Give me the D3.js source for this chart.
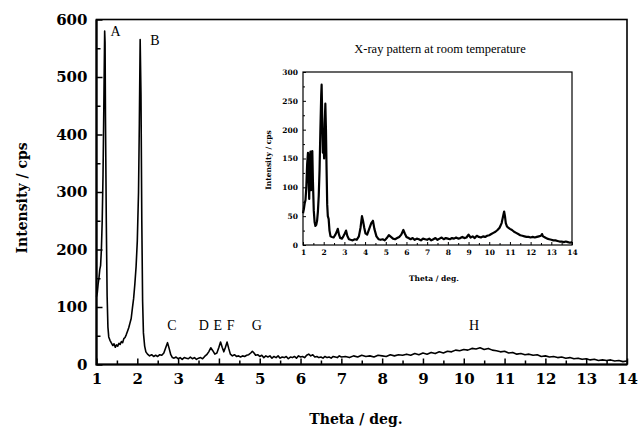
<!DOCTYPE html>
<html>
<head>
<meta charset="utf-8">
<script src="https://cdn.jsdelivr.net/npm/d3@7"></script>
<style>
	body { margin: 0; background: #fff; }
	svg { display: block; }
	.tick text { font-family: 'DejaVu Serif', serif; font-weight: bold; }
</style>
</head>
<body>
<script>

// main pattern (theta, intensity)
var mainTheta = [1.00,1.02,1.04,1.06,1.08,1.10,1.12,1.14,1.16,1.18,1.20,1.21,1.22,1.24,1.26,1.28,1.30,1.33,1.36,1.40,1.43,1.46,1.49,1.52,1.55,1.58,1.61,1.64,1.67,1.70,1.73,1.76,1.79,1.82,1.85,1.88,1.91,1.94,1.97,2.00,2.03,2.05,2.07,2.09,2.11,2.13,2.15,2.18,2.21,2.25,2.30,2.35,2.40,2.45,2.50,2.55,2.60,2.65,2.70,2.74,2.78,2.82,2.86,2.90,2.95,3.00,3.05,3.10,3.15,3.20,3.25,3.30,3.35,3.40,3.45,3.50,3.55,3.60,3.65,3.70,3.75,3.80,3.85,3.90,3.95,4.00,4.04,4.08,4.12,4.16,4.20,4.24,4.28,4.33,4.38,4.43,4.48,4.53,4.58,4.63,4.68,4.73,4.78,4.82,4.86,4.90,4.95,5.00,5.05,5.10,5.15,5.20,5.25,5.30,5.35,5.40,5.45,5.50,5.55,5.60,5.65,5.70,5.75,5.80,5.85,5.90,5.95,6.00,6.05,6.10,6.15,6.20,6.25,6.30,6.35,6.40,6.45,6.50,6.55,6.60,6.65,6.70,6.75,6.80,6.85,6.90,6.95,7.00,7.10,7.20,7.30,7.40,7.50,7.60,7.70,7.80,7.90,8.00,8.10,8.20,8.30,8.40,8.50,8.60,8.70,8.80,8.90,9.00,9.10,9.20,9.30,9.40,9.50,9.60,9.70,9.80,9.90,10.00,10.10,10.20,10.30,10.40,10.50,10.60,10.70,10.80,10.90,11.00,11.10,11.20,11.30,11.40,11.50,11.60,11.70,11.80,11.90,12.00,12.10,12.20,12.30,12.40,12.50,12.60,12.70,12.80,12.90,13.00,13.10,13.20,13.30,13.40,13.50,13.60,13.70,13.80,13.90,14.00]
var mainCps = [118,125,140,150,165,172,200,250,330,450,580,560,430,250,120,65,48,42,38,33,36,30,34,32,37,35,40,38,45,47,52,58,64,72,80,98,115,140,170,215,300,420,565,470,250,110,55,32,22,18,15,17,14,16,14,17,16,20,30,38,28,17,12,11,13,10,12,9,12,11,10,13,10,12,9,11,12,10,14,17,22,29,24,18,20,30,39,30,22,30,39,28,18,15,17,14,15,13,15,14,16,17,20,23,20,16,17,14,16,12,15,13,15,11,14,12,15,11,13,12,14,10,13,12,14,11,15,13,14,12,16,18,15,17,13,14,12,13,11,14,12,13,11,14,13,12,15,13,14,12,15,13,16,14,15,13,16,15,14,17,15,17,16,18,16,19,17,20,18,21,19,22,20,23,22,25,24,26,25,28,27,29,26,28,25,24,22,23,20,21,18,19,17,18,16,17,14,15,13,14,12,13,11,12,10,11,9,10,8,9,7,8,7,8,6,7,5,6]

// inset pattern at room temperature (theta, intensity)
var roomTheta = [1.00,1.04,1.08,1.12,1.16,1.20,1.24,1.27,1.30,1.33,1.36,1.39,1.42,1.45,1.48,1.52,1.56,1.60,1.64,1.68,1.72,1.76,1.80,1.84,1.88,1.90,1.93,1.96,1.99,2.02,2.05,2.08,2.11,2.14,2.17,2.20,2.24,2.28,2.33,2.40,2.48,2.55,2.62,2.68,2.74,2.80,2.88,2.95,3.02,3.08,3.14,3.22,3.30,3.40,3.50,3.60,3.70,3.78,3.85,3.90,3.96,4.02,4.10,4.20,4.30,4.38,4.45,4.55,4.65,4.75,4.85,4.95,5.05,5.15,5.25,5.35,5.45,5.55,5.65,5.75,5.85,5.92,6.00,6.10,6.20,6.30,6.40,6.50,6.60,6.70,6.80,6.90,7.00,7.10,7.20,7.30,7.40,7.50,7.60,7.70,7.80,7.90,8.00,8.10,8.20,8.30,8.40,8.50,8.60,8.70,8.80,8.90,9.00,9.10,9.20,9.30,9.40,9.50,9.60,9.70,9.80,9.90,10.00,10.10,10.20,10.30,10.40,10.50,10.60,10.66,10.72,10.76,10.80,10.86,10.92,11.00,11.10,11.20,11.30,11.40,11.50,11.60,11.70,11.80,11.90,12.00,12.10,12.20,12.30,12.40,12.50,12.55,12.60,12.70,12.80,12.90,13.00,13.10,13.20,13.30,13.40,13.50,13.60,13.70,13.80,13.90,14.00]
var roomCps = [55,62,72,78,100,140,160,115,80,150,162,95,125,163,110,60,40,33,35,42,58,85,130,200,260,278,220,160,190,150,210,245,200,130,70,50,45,25,15,14,13,17,22,28,18,12,11,15,20,25,16,10,9,8,10,9,15,30,50,42,30,20,18,28,38,42,28,15,10,9,10,8,12,17,14,11,10,12,14,18,26,20,14,12,10,12,9,11,10,8,11,10,9,11,8,10,12,9,11,13,10,12,11,10,12,11,13,11,12,14,12,13,18,13,15,12,16,14,13,15,14,16,17,19,21,23,26,30,38,48,58,50,38,32,30,28,26,23,21,19,17,16,15,14,14,13,14,13,14,15,16,19,15,13,11,10,9,8,8,7,6,6,5,6,5,4,5]

// peak labels
var peakNames = ['A', 'B', 'C', 'D', 'E', 'F', 'G', 'H']
var peakTheta = [1.47, 2.43, 2.85, 3.63, 3.97, 4.29, 4.93, 10.25]
var peakCps = [571, 555, 60, 60, 60, 60, 60, 60]

var xTicks = [1,2,3,4,5,6,7,8,9,10,11,12,13,14]
var mainYTicks = [0,100,200,300,400,500,600]
var roomYTicks = [0,50,100,150,200,250,300]

var width = 638
	, height = 431

var svg = d3.select('body').append('svg')
	.attr('width', width)
	.attr('height', height)

/**
 * Draw one framed panel: axes, inward ticks, border and the pattern line
 *
 * @param {object} opts
 */
function drawPanel(opts) {

	var g = svg.append('g')
		, x = d3.scaleLinear().domain([1, 14]).range(opts.xRange)
		, y = d3.scaleLinear().domain(opts.yDomain).range(opts.yRange)
		, xMinor = d3.range(1.5, 14, 1)
		, yMinor = d3.range(opts.yStep / 2, opts.yDomain[1], opts.yStep)

	// minor ticks
	g.append('g')
		.attr('transform', 'translate(0,' + opts.yRange[0] + ')')
		.call(d3.axisBottom(x).tickValues(xMinor).tickSize(-opts.minor).tickFormat(''))
	g.append('g')
		.attr('transform', 'translate(' + opts.xRange[0] + ',0)')
		.call(d3.axisLeft(y).tickValues(yMinor).tickSize(-opts.minor).tickFormat(''))

	// major ticks with labels
	var xAxis = g.append('g')
		.attr('transform', 'translate(0,' + opts.yRange[0] + ')')
		.call(d3.axisBottom(x).tickValues(xTicks).tickSize(-opts.major).tickPadding(opts.pad + opts.major).tickFormat(d3.format('d')))
	var yAxis = g.append('g')
		.attr('transform', 'translate(' + opts.xRange[0] + ',0)')
		.call(d3.axisLeft(y).tickValues(opts.yTicks).tickSize(-opts.major).tickPadding(opts.pad + opts.major).tickFormat(d3.format('d')))

	g.selectAll('.domain').remove()
	g.selectAll('.tick line').attr('stroke', '#000').attr('stroke-width', opts.tickWidth)
	xAxis.selectAll('text').style('font-size', opts.font + 'px').attr('fill', '#000')
	yAxis.selectAll('text').style('font-size', opts.font + 'px').attr('fill', '#000')

	// frame
	g.append('rect')
		.attr('x', opts.xRange[0])
		.attr('y', opts.yRange[1])
		.attr('width', opts.xRange[1] - opts.xRange[0])
		.attr('height', opts.yRange[0] - opts.yRange[1])
		.attr('fill', 'none')
		.attr('stroke', '#000')
		.attr('stroke-width', opts.frameWidth)

	var line = d3.line()
		.x(function(d) { return x(d[0]) })
		.y(function(d) { return y(d[1]) })

	g.append('path')
		.datum(d3.zip(opts.theta, opts.cps))
		.attr('d', line)
		.attr('fill', 'none')
		.attr('stroke', '#000')
		.attr('stroke-width', opts.lineWidth)
		.attr('stroke-linejoin', 'round')

	return { g: g, x: x, y: y }
}

var main = drawPanel({
	xRange: [96.5, 627]
	, yRange: [364.5, 19.5]
	, yDomain: [0, 600]
	, yTicks: mainYTicks
	, yStep: 100
	, theta: mainTheta
	, cps: mainCps
	, major: 6
	, minor: 4
	, pad: 3
	, font: 15
	, tickWidth: 1.5
	, frameWidth: 1.6
	, lineWidth: 1.6
})

// heavier left and bottom axis lines
main.g.append('path')
	.attr('d', 'M96.5,19.5V364.5H627')
	.attr('fill', 'none')
	.attr('stroke', '#000')
	.attr('stroke-width', 2.2)

var room = drawPanel({
	xRange: [303, 572]
	, yRange: [245, 72]
	, yDomain: [0, 300]
	, yTicks: roomYTicks
	, yStep: 50
	, theta: roomTheta
	, cps: roomCps
	, major: 3
	, minor: 2
	, pad: 2
	, font: 7.5
	, tickWidth: 1
	, frameWidth: 1.2
	, lineWidth: 2.2
})

// peak letters
main.g.selectAll('.peak').data(peakNames)
  .enter()
	.append('text')
	.attr('class', 'peak')
	.attr('x', function(d, i) { return main.x(peakTheta[i]) })
	.attr('y', function(d, i) { return main.y(peakCps[i]) })
	.attr('text-anchor', 'middle')
	.style('font-family', "'Liberation Serif', serif")
	.style('font-size', '14px')
	.text(function(d) { return d })

// axis titles
svg.append('text')
	.attr('x', 356)
	.attr('y', 424)
	.attr('text-anchor', 'middle')
	.style('font-family', "'DejaVu Serif', serif")
	.style('font-weight', 'bold')
	.style('font-size', '14px')
	.text('Theta / deg.')

svg.append('text')
	.attr('transform', 'translate(27,198) rotate(-90)')
	.attr('text-anchor', 'middle')
	.style('font-family', "'DejaVu Serif', serif")
	.style('font-weight', 'bold')
	.style('font-size', '14px')
	.text('Intensity / cps')

svg.append('text')
	.attr('x', 440)
	.attr('y', 53)
	.attr('text-anchor', 'middle')
	.style('font-family', "'Liberation Serif', serif")
	.style('font-size', '12.5px')
	.text('X-ray pattern at room temperature')

svg.append('text')
	.attr('x', 434)
	.attr('y', 281)
	.attr('text-anchor', 'middle')
	.style('font-family', "'DejaVu Serif', serif")
	.style('font-weight', 'bold')
	.style('font-size', '7.5px')
	.text('Theta / deg.')

svg.append('text')
	.attr('transform', 'translate(271,160) rotate(-90)')
	.attr('text-anchor', 'middle')
	.style('font-family', "'DejaVu Serif', serif")
	.style('font-weight', 'bold')
	.style('font-size', '7.5px')
	.text('Intensity / cps')

</script>
</body>
</html>
